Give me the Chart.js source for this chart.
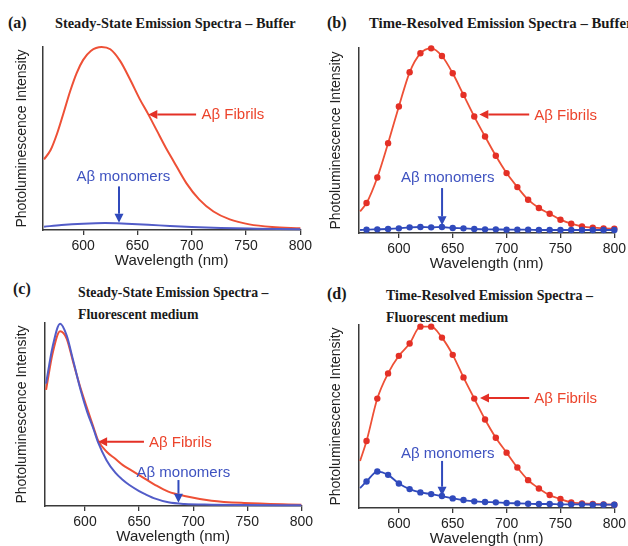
<!DOCTYPE html>
<html>
<head>
<meta charset="utf-8">
<script src="https://cdn.jsdelivr.net/npm/chart.js@4.4.1/dist/chart.umd.min.js"></script>
<style>
  html, body { margin:0; padding:0; background:#fff; }
  body { width:628px; height:546px; position:relative; overflow:hidden; }
  .box { position:absolute; }
  .lbl { position:absolute; font-family:"Liberation Serif", serif; font-weight:bold; font-size:16px; line-height:20px; color:#1a1a1a; white-space:nowrap; }
  .ttl { position:absolute; font-family:"Liberation Serif", serif; font-weight:bold; font-size:14.3px; line-height:20px; color:#1a1a1a; white-space:nowrap; }
  .ttl2 { line-height:22px; font-size:13.8px; }
</style>
</head>
<body>
<div class="lbl" style="left:8px;top:13px">(a)</div>
<div class="ttl" style="left:55px;top:13px">Steady-State Emission Spectra – Buffer</div>
<div class="lbl" style="left:327px;top:13px">(b)</div>
<div class="ttl" style="left:369px;top:13px;font-size:14.8px">Time-Resolved Emission Spectra – Buffer</div>
<div class="lbl" style="left:13px;top:279px">(c)</div>
<div class="ttl ttl2" style="left:78px;top:282px">Steady-State Emission Spectra –<br>Fluorescent medium</div>
<div class="lbl" style="left:327px;top:284px">(d)</div>
<div class="ttl ttl2" style="left:386px;top:285px;font-size:14px">Time-Resolved Emission Spectra –<br>Fluorescent medium</div>

<div class="box" style="left:0px;top:40px;width:315px;height:230px"><canvas id="ca"></canvas></div>
<div class="box" style="left:314px;top:40px;width:315px;height:233px"><canvas id="cb"></canvas></div>
<div class="box" style="left:0px;top:313px;width:316px;height:233px"><canvas id="cc"></canvas></div>
<div class="box" style="left:314px;top:313px;width:315px;height:235px"><canvas id="cd"></canvas></div>

<script>
// ---------- data ----------
const xTicks = [600, 650, 700, 750, 800];
const xMin = 563, xMax = 800;

// (a) steady-state, buffer
const wlFibA  = [564, 570, 576, 582, 588, 594, 600, 607, 617, 625, 634, 643, 652, 660, 668, 676, 683, 695, 707, 720, 735, 753, 774, 800];
const fibA    = [214, 242, 292, 355, 420, 475, 515, 542, 554, 547, 512, 457, 397, 350, 300, 250, 210, 142, 92, 56, 32, 17, 9, 5];
const wlMonoA = [564, 580, 600, 620, 640, 660, 680, 700, 720, 740, 760, 780, 800];
const monoA   = [10, 15, 19, 21, 19, 16, 12, 9, 7, 5, 4, 3, 2];

// (b) time-resolved, buffer
const wlB   = [564, 570, 580, 590, 600, 610, 620, 630, 640, 650, 660, 670, 680, 690, 700, 710, 720, 730, 740, 750, 760, 770, 780, 790, 800];
const fibB  = [65, 90, 167, 270, 380, 483, 540, 555, 532, 480, 415, 350, 290, 232, 180, 138, 100, 75, 58, 40, 28, 20, 16, 14, 13];
const monoB = [9, 10, 11, 12, 14, 17, 18, 17, 18, 15, 14, 12, 11, 11, 10, 10, 10, 9, 9, 9, 9, 9, 9, 9, 9];

// (c) steady-state, fluorescent medium
const wlC   = [564, 570, 577, 583, 589, 596, 602, 608, 612, 620, 628, 635, 641, 650, 656, 665, 677, 692, 717, 747, 800];
const fibC  = [349, 458, 525, 503, 433, 353, 293, 235, 198, 163, 142, 123, 111, 93, 81, 63, 43, 30, 16, 9, 4];
const monoC = [368, 478, 548, 513, 438, 348, 283, 230, 192, 137, 100, 78, 63, 45, 35, 22, 11, 6, 4, 3, 2];

// (d) time-resolved, fluorescent medium
const wlD   = [564, 570, 580, 590, 600, 610, 620, 630, 640, 650, 660, 670, 680, 690, 700, 710, 720, 730, 740, 750, 760, 770, 780, 790, 800];
const fibD  = [142, 202, 330, 406, 459, 496, 547, 547, 514, 462, 394, 330, 267, 212, 167, 122, 84, 59, 39, 27, 17, 14, 12, 11, 10];
const monoD = [60, 80, 110, 100, 74, 57, 47, 42, 36, 29, 24, 20, 18, 17, 15, 14, 13, 12, 12, 11, 11, 11, 10, 10, 10];

const labelFib = 'Aβ Fibrils';
const labelMono = 'Aβ monomers';

// ---------- styles ----------
const RED = 'rgb(238,80,54)';
const REDDOT = 'rgb(228,48,38)';
const REDTXT = 'rgb(236,68,44)';
const BLUE = 'rgb(82,92,200)';
const BLUEDOT = 'rgb(48,74,188)';
const BLUETXT = 'rgb(62,82,192)';
const AXIS = '#3a3a3a';
const SANS = '"Liberation Sans", Arial, sans-serif';

const pts = (xs, ys) => xs.map((x, i) => ({x, y: ys[i]}));

const annotate = {
  id: 'annotate',
  afterDatasetsDraw(chart, args, opts) {
    const {ctx, scales: {x, y}} = chart;
    ctx.save();
    (opts.items || []).forEach(it => {
      if (it.type === 'arrow') {
        const x0 = x.getPixelForValue(it.from[0]), y0 = y.getPixelForValue(it.from[1]);
        const x1 = x.getPixelForValue(it.to[0]),   y1 = y.getPixelForValue(it.to[1]);
        const ang = Math.atan2(y1 - y0, x1 - x0);
        const hl = 9, hw = 4.5;
        const bx = x1 - hl * Math.cos(ang), by = y1 - hl * Math.sin(ang);
        ctx.strokeStyle = it.color; ctx.fillStyle = it.color; ctx.lineWidth = 2;
        ctx.beginPath(); ctx.moveTo(x0, y0); ctx.lineTo(bx, by); ctx.stroke();
        ctx.beginPath();
        ctx.moveTo(x1, y1);
        ctx.lineTo(bx + hw * Math.sin(ang), by - hw * Math.cos(ang));
        ctx.lineTo(bx - hw * Math.sin(ang), by + hw * Math.cos(ang));
        ctx.closePath(); ctx.fill();
      } else if (it.type === 'text') {
        ctx.fillStyle = it.color;
        ctx.font = '15px ' + SANS;
        ctx.textAlign = it.align || 'left';
        ctx.textBaseline = 'middle';
        ctx.fillText(it.text, x.getPixelForValue(it.at[0]), y.getPixelForValue(it.at[1]));
      }
    });
    ctx.restore();
  }
};

function makeChart(id, datasets, ymax, padTop, yWidth, items) {
  return new Chart(document.getElementById(id), {
    type: 'line',
    data: { datasets },
    plugins: [annotate],
    options: {
      responsive: true, maintainAspectRatio: false, animation: false,
      layout: { padding: { top: padTop, right: 13, bottom: 0, left: 0 }, autoPadding: false },
      plugins: { legend: { display: false }, tooltip: { enabled: false }, annotate: { items } },
      scales: {
        x: {
          type: 'linear', min: xMin, max: xMax,
          afterBuildTicks: s => { s.ticks = xTicks.map(v => ({ value: v })); },
          afterFit: s => { s.height = 40; },
          ticks: { font: { family: SANS, size: 14 }, color: '#222', padding: 3, maxRotation: 0 },
          grid: { display: true, drawOnChartArea: false, drawTicks: true, tickLength: 5, color: AXIS, lineWidth: 1.3 },
          border: { display: true, color: AXIS, width: 1.5 },
          title: { display: true, text: 'Wavelength (nm)', font: { family: SANS, size: 15 }, color: '#222', padding: 0 }
        },
        y: {
          min: 0, max: ymax,
          afterFit: s => { s.width = yWidth; },
          ticks: { display: false },
          grid: { display: false },
          border: { display: true, color: AXIS, width: 1.5 },
          title: { display: true, text: 'Photoluminescence Intensity', font: { family: SANS, size: 14 }, color: '#222', padding: { top: 13.6, bottom: 0 } }
        }
      }
    }
  });
}

const smooth = (data, color, width) => ({
  data, borderColor: color, borderWidth: width, pointRadius: 0, fill: false,
  cubicInterpolationMode: 'monotone', clip: false
});
const dotted = (data, color, dot) => ({
  data, borderColor: color, borderWidth: 1.8, backgroundColor: dot, pointBackgroundColor: dot,
  pointBorderWidth: 0, pointRadius: c => (c.dataIndex === 0 ? 0 : 3.2), fill: false,
  cubicInterpolationMode: 'monotone', clip: false
});

makeChart('ca', [
  smooth(pts(wlMonoA, monoA), BLUE, 2),
  smooth(pts(wlFibA, fibA), RED, 2)
], 554, 7, 43, [
  { type: 'arrow', from: [704, 350], to: [660, 350], color: REDDOT },
  { type: 'text', at: [709, 350], text: labelFib, color: REDTXT },
  { type: 'text', at: [637, 162], text: labelMono, color: BLUETXT, align: 'center' },
  { type: 'arrow', from: [633, 132], to: [633, 22], color: BLUEDOT }
]);

makeChart('cb', [
  dotted(pts(wlB, monoB), BLUEDOT, BLUEDOT),
  dotted(pts(wlB, fibB), RED, REDDOT)
], 556, 8, 45, [
  { type: 'arrow', from: [721, 356], to: [674.7, 356], color: REDDOT },
  { type: 'text', at: [725.6, 352], text: labelFib, color: REDTXT },
  { type: 'text', at: [645.4, 165], text: labelMono, color: BLUETXT, align: 'center' },
  { type: 'arrow', from: [640.1, 135], to: [640.1, 23], color: BLUEDOT }
]);

makeChart('cc', [
  smooth(pts(wlC, monoC), BLUE, 2),
  smooth(pts(wlC, fibC), RED, 2)
], 550, 10, 45, [
  { type: 'arrow', from: [654.5, 193], to: [612.1, 193], color: REDDOT },
  { type: 'text', at: [659.1, 190], text: labelFib, color: REDTXT },
  { type: 'text', at: [690.9, 101], text: labelMono, color: BLUETXT, align: 'center' },
  { type: 'arrow', from: [686.4, 78], to: [686.4, 10], color: BLUEDOT }
]);

makeChart('cd', [
  dotted(pts(wlD, monoD), BLUEDOT, BLUEDOT),
  dotted(pts(wlD, fibD), RED, REDDOT)
], 552, 12, 45, [
  { type: 'arrow', from: [721, 332], to: [675.3, 332], color: REDDOT },
  { type: 'text', at: [725.6, 328], text: labelFib, color: REDTXT },
  { type: 'text', at: [645.4, 164], text: labelMono, color: BLUETXT, align: 'center' },
  { type: 'arrow', from: [640.1, 142], to: [640.1, 37], color: BLUEDOT }
]);
</script>
</body>
</html>
